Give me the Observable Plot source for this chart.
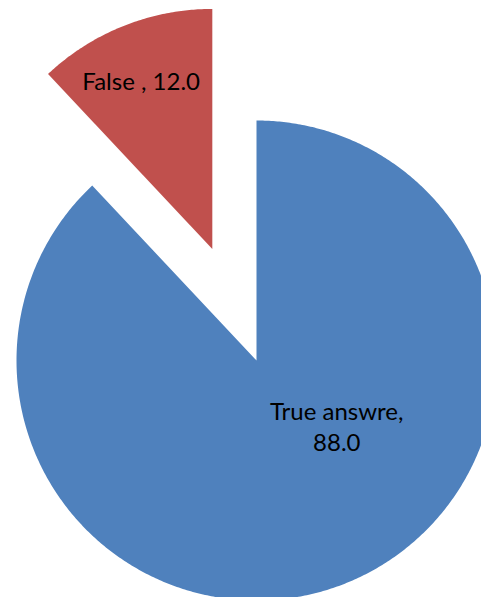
<!DOCTYPE html>
<html>
<head>
<meta charset="utf-8">
<script src="https://cdn.jsdelivr.net/npm/d3@7"></script>
<script src="https://cdn.jsdelivr.net/npm/@observablehq/plot@0.6"></script>
<style>
  html, body { margin: 0; padding: 0; background: #fff; }
  #chart svg { display: block; }
</style>
</head>
<body>
<div id="chart"></div>
<script>
// ---- data ----
const categories = ["True answre", "False "];
const values = [88.0, 12.0];
const colors = ["#4F81BD", "#C0504D"];
// ---- layout (per-slice explode fraction, label radius fraction, label angle fraction) ----
const explode = [0, 0.5];
const labelRadius = [0.43, 0.765];
const labelAngleFrac = [0.407, 0.472];

const W = 481, H = 597;
const cx = 256, cy = 360, R = 240;

const pie = d3.pie().sort(null).value(d => d)(values);
const polyPts = [];
const labels = [];
pie.forEach((a, i) => {
  const mid = (a.startAngle + a.endAngle) / 2;
  const ox = explode[i] * Math.sin(mid), oy = explode[i] * Math.cos(mid);
  const n = Math.max(4, Math.ceil((a.endAngle - a.startAngle) / (Math.PI / 360)));
  polyPts.push({name: categories[i], x: ox, y: oy});
  for (let k = 0; k <= n; k++) {
    const t = a.startAngle + (a.endAngle - a.startAngle) * k / n;
    polyPts.push({name: categories[i], x: ox + Math.sin(t), y: oy + Math.cos(t)});
  }
  polyPts.push({name: categories[i], x: ox, y: oy});
  const la = a.startAngle + (a.endAngle - a.startAngle) * labelAngleFrac[i];
  labels.push({
    name: categories[i],
    x: ox + labelRadius[i] * Math.sin(la),
    y: oy + labelRadius[i] * Math.cos(la),
    text: i === 0 ? `${categories[i]},\n${values[i].toFixed(1)}` : `${categories[i]}, ${values[i].toFixed(1)}`
  });
});

const chart = Plot.plot({
  width: W,
  height: H,
  margin: 0,
  style: {background: "#fff", overflow: "hidden"},
  x: {domain: [(0 - cx) / R, (W - cx) / R], range: [0, W], axis: null},
  y: {domain: [(cy - H) / R, cy / R], range: [H, 0], axis: null},
  color: {domain: categories, range: colors},
  marks: [
    Plot.line(polyPts, {x: "x", y: "y", z: "name", fill: "name", stroke: null, curve: "linear"}),
    Plot.text(labels, {
      x: "x", y: "y", text: "text",
      fill: "#000", fontSize: 24, lineHeight: 1.29,
      fontFamily: "Lato, 'Open Sans', sans-serif",
      textAnchor: "middle"
    })
  ]
});
document.getElementById("chart").appendChild(chart);
</script>
</body>
</html>
